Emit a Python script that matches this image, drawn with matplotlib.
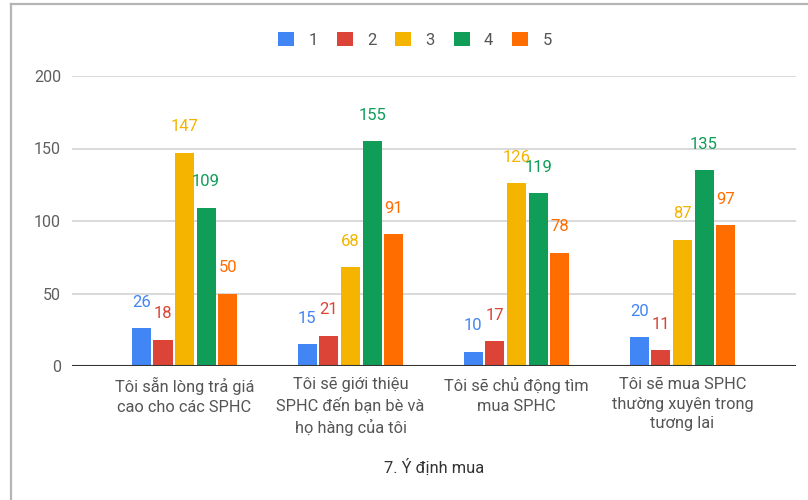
import matplotlib
matplotlib.use("Agg")
import matplotlib.pyplot as plt
from matplotlib.patches import Rectangle
from matplotlib.lines import Line2D
import numpy as np

plt.rcParams['font.family'] = ['Roboto', 'DejaVu Sans']

categories = [
    "Tôi sẵn lòng trả giá\ncao cho các SPHC",
    "Tôi sẽ giới thiệu\nSPHC đến bạn bè và\nhọ hàng của tôi",
    "Tôi sẽ chủ động tìm\nmua SPHC",
    "Tôi sẽ mua SPHC\nthường xuyên trong\ntương lai",
]
series_names = ["1", "2", "3", "4", "5"]
s1 = [26, 15, 10, 20]
s2 = [18, 21, 17, 11]
s3 = [147, 68, 126, 87]
s4 = [109, 155, 119, 135]
s5 = [50, 91, 78, 97]
series = [s1, s2, s3, s4, s5]
colors = ["#4285F4", "#DB4437", "#F4B400", "#0F9D58", "#FF6D01"]
yticks = [0, 50, 100, 150, 200]
xtitle = "7. Ý định mua"

W, H = 808, 500
fig = plt.figure(figsize=(W / 100, H / 100), dpi=100)
ax_left, ax_right = 72, 796
ax_bottom, ax_top = 366, 76
ax = fig.add_axes([ax_left / W, (H - ax_bottom) / H,
                   (ax_right - ax_left) / W, (ax_bottom - ax_top) / H])

x = np.arange(len(categories))
step = 0.13
width = 0.115
for i, (vals, c) in enumerate(zip(series, colors)):
    pos = x + (i - 2) * step
    ax.bar(pos, vals, width=width, color=c, zorder=3, label=series_names[i])
    for px, v in zip(pos, vals):
        ax.annotate(str(v), (px, v), xytext=(0, 18.7), textcoords="offset points",
                    ha="center", va="center", fontsize=12, color=c,
                    annotation_clip=False, zorder=4)

ax.set_xlim(-0.678, 3.684)
ax.set_ylim(0, 200)
ax.set_yticks(yticks)
ax.set_yticklabels([str(t) for t in yticks], fontsize=11.5, color="#5f5f5f")
ax.set_xticks(x)
ax.set_xticklabels(categories, fontsize=11.8, color="#555555", linespacing=1.38)
ax.tick_params(axis="both", length=0)
ax.tick_params(axis="y", pad=8)
ax.tick_params(axis="x", pad=8)
ax.grid(axis="y", color="#d0d0d0", linewidth=1.1, zorder=0)
ax.axhline(0, color="#333333", linewidth=1.5, zorder=5)
for s in ax.spines.values():
    s.set_visible(False)

fig.text((ax_left + ax_right) / 2 / W, 1 - 467 / H, xtitle, ha="center", va="center",
         fontsize=11.8, color="#333333")

handles = [Rectangle((0, 0), 1, 1, facecolor=c, edgecolor="none") for c in colors]
leg = fig.legend(handles, series_names, loc="center", ncol=5,
                 bbox_to_anchor=(415 / W, 1 - 40 / H), frameon=False,
                 fontsize=12, handlelength=0.95, handleheight=0.95,
                 handletextpad=0.85, columnspacing=1.15, labelcolor="#555555")

# frame lines (left and top border)
fig.add_artist(Line2D([11 / W, 11 / W], [0, 1 - 3.5 / H], transform=fig.transFigure,
                      color="#b5b5b5", linewidth=1.6))
fig.add_artist(Line2D([11 / W, 1], [1 - 3.5 / H, 1 - 3.5 / H], transform=fig.transFigure,
                      color="#b5b5b5", linewidth=1.6))

fig.savefig("out.png", dpi=100, facecolor="white")
